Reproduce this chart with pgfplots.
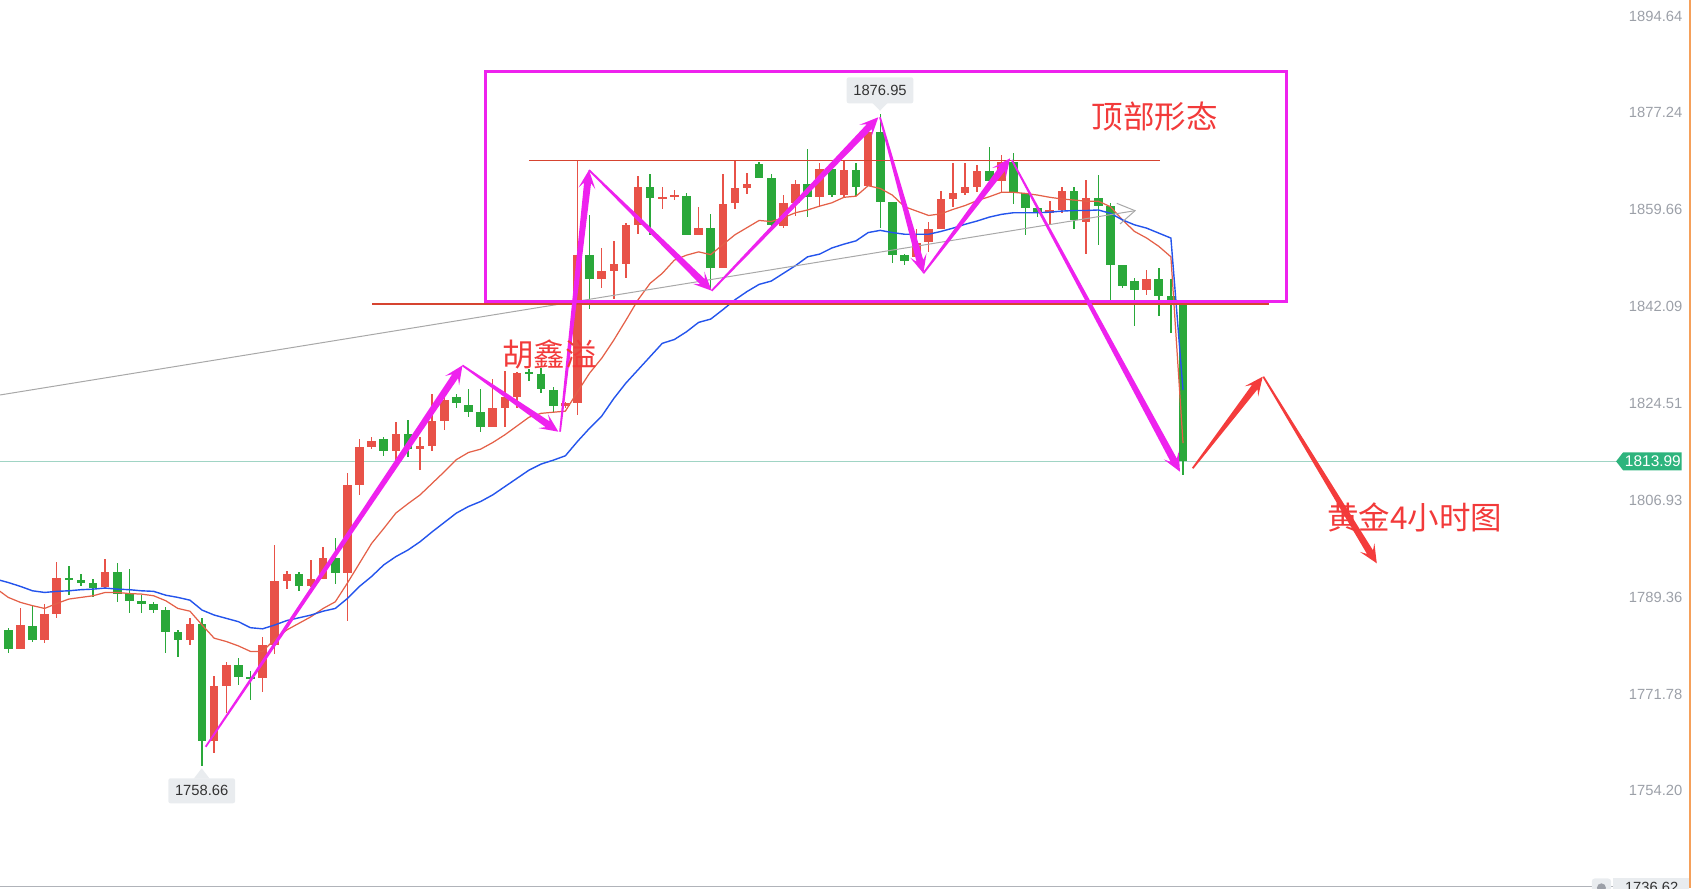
\documentclass[border=0pt]{standalone}
\usepackage{fontspec}
\setmainfont{Liberation Sans}
\newfontfamily\cjk{Noto Sans CJK SC}
\usepackage{pgfplots}
\pgfplotsset{compat=1.18}
\usepackage{pgfplotstable}
\usetikzlibrary{calc}

\definecolor{upred}{RGB}{232,82,72}
\definecolor{dngreen}{RGB}{42,168,58}
\definecolor{mafast}{RGB}{228,96,72}
\definecolor{maslow}{RGB}{36,84,236}
\definecolor{pinkline}{RGB}{238,34,238}
\definecolor{arrowred}{RGB}{244,60,60}
\definecolor{textred}{RGB}{242,58,58}
\definecolor{resline}{RGB}{214,68,48}
\definecolor{trendgrey}{RGB}{168,168,168}
\definecolor{lastline}{RGB}{160,212,196}
\definecolor{tagfill}{RGB}{46,180,125}
\definecolor{tickgrey}{RGB}{156,160,168}
\definecolor{boxgrey}{RGB}{233,236,239}
\definecolor{labeltext}{RGB}{51,51,51}
\definecolor{edgeorange}{RGB}{245,160,90}

% tapered arrow: colour, start (x,y), tip (x,y)
\newcommand\taper[5]{%
  \coordinate (ta) at (axis cs:#2,#3);
  \coordinate (tb) at (axis cs:#4,#5);
  \coordinate (tc) at ($(tb)!0.13cm!(ta)$);
  \coordinate (th) at ($(tb)!0.185cm!(ta)$);
  \fill[#1] ($(ta)!0.25pt!90:(tb)$) -- ($(tc)!1.0pt!90:(tb)$) -- ($(th)!2.4pt!90:(tb)$)
    -- (tb) -- ($(th)!2.4pt!-90:(tb)$) -- ($(tc)!1.0pt!-90:(tb)$)
    -- ($(ta)!0.25pt!-90:(tb)$) -- cycle;
}

% bar styles drawn from error bars: wick (thin) and body (thick)
\pgfplotsset{
  candle/.style 2 args={draw=none, mark=none, forget plot,
    error bars/.cd, y dir=both, y explicit, error mark=none,
    error bar style={draw=#1, line width=#2}},
}

% 4-hour bars: index, open, high, low, close
\pgfplotstableread{
i o h l c
1 1780.0 1787.3 1780.0 1784.3
3 1781.5 1788.1 1781.1 1786.3
4 1786.3 1795.7 1785.6 1792.8
8 1791.1 1796.3 1791.1 1793.9
15 1781.6 1785.6 1780.6 1784.5
17 1763.3 1775.1 1761.1 1773.3
18 1773.3 1777.5 1768.4 1777.1
21 1774.6 1782.2 1772.2 1780.7
22 1780.7 1798.8 1779.1 1792.2
23 1792.2 1794.1 1790.8 1793.6
25 1791.3 1796.1 1791.2 1792.6
26 1792.6 1798.5 1792.6 1796.5
28 1793.8 1811.9 1785.1 1809.7
29 1809.7 1818.0 1807.8 1816.6
30 1816.6 1818.4 1816.2 1817.7
32 1815.8 1821.1 1814.2 1819.0
34 1816.3 1818.5 1812.4 1816.8
35 1816.8 1826.2 1815.9 1821.3
36 1821.3 1825.8 1819.6 1825.2
40 1820.2 1828.9 1820.2 1823.6
41 1823.6 1830.4 1820.3 1825.6
42 1825.7 1830.2 1823.6 1830.1
46 1824.1 1824.7 1823.6 1824.5
47 1824.5 1868.5 1822.4 1851.4
49 1847.0 1852.8 1845.5 1848.5
50 1848.5 1854.0 1843.4 1849.8
51 1849.8 1857.2 1847.2 1856.9
52 1856.9 1865.8 1855.2 1863.8
54 1861.7 1863.8 1859.8 1862.0
55 1862.0 1863.2 1861.4 1862.3
57 1855.1 1860.2 1855.1 1856.3
59 1849.1 1866.1 1849.1 1860.7
60 1860.8 1868.7 1859.8 1863.6
61 1863.6 1866.4 1862.5 1864.4
64 1856.7 1862.4 1856.3 1860.8
65 1860.8 1865.0 1858.6 1864.3
67 1862.0 1868.1 1860.2 1867.0
69 1862.3 1868.7 1861.7 1866.9
71 1864.0 1874.0 1863.9 1873.8
75 1851.1 1856.2 1851.0 1853.6
76 1853.7 1857.5 1852.0 1856.2
77 1856.2 1863.1 1856.1 1861.6
78 1861.6 1868.2 1860.2 1862.7
79 1862.7 1868.2 1862.3 1863.8
80 1863.8 1867.7 1862.9 1866.6
82 1864.9 1869.6 1862.9 1868.3
86 1859.0 1861.2 1857.1 1859.6
87 1859.6 1863.8 1859.0 1863.1
89 1857.5 1865.0 1851.6 1861.7
94 1845.0 1848.7 1844.2 1847.0
}\upbars

\pgfplotstableread{
i o h l c
0 1783.3 1783.7 1779.2 1780.0
2 1784.1 1787.7 1781.3 1781.5
5 1792.8 1795.0 1789.7 1792.5
6 1792.5 1793.6 1791.4 1791.9
7 1791.9 1792.6 1789.3 1791.1
9 1793.9 1795.5 1788.4 1790.0
10 1790.0 1794.5 1786.4 1788.7
11 1788.7 1789.7 1786.4 1788.2
12 1788.2 1788.5 1786.5 1787.1
13 1787.1 1787.6 1779.3 1783.1
14 1783.1 1783.4 1778.4 1781.6
16 1784.5 1785.6 1758.66 1763.3
19 1777.1 1778.4 1773.5 1774.9
20 1774.9 1776.0 1770.7 1774.6
24 1793.6 1793.9 1790.5 1791.3
27 1796.5 1800.1 1791.7 1793.8
31 1818.0 1818.4 1815.0 1815.8
33 1819.0 1821.5 1814.7 1816.2
37 1825.6 1826.3 1823.6 1824.5
38 1824.3 1827.2 1822.0 1823.0
39 1822.9 1827.1 1819.3 1820.2
43 1830.1 1830.8 1828.6 1830.0
44 1829.8 1830.9 1826.3 1827.1
45 1826.9 1827.4 1823.0 1824.1
48 1851.4 1858.7 1841.6 1847.0
53 1863.8 1866.1 1855.1 1861.7
56 1862.1 1862.6 1855.1 1855.1
58 1856.4 1858.9 1845.1 1849.1
62 1868.0 1868.3 1865.5 1865.5
63 1865.4 1866.1 1856.5 1856.9
66 1864.3 1870.7 1858.4 1862.0
68 1867.0 1868.1 1862.0 1862.3
70 1866.9 1868.1 1862.1 1863.8
72 1873.8 1876.95 1856.4 1861.1
73 1861.1 1861.1 1849.9 1851.4
74 1851.4 1851.7 1849.6 1850.4
81 1866.6 1871.1 1864.7 1864.9
83 1868.3 1870.0 1860.6 1862.8
84 1862.6 1862.6 1855.1 1860.0
85 1859.9 1859.9 1858.4 1859.0
88 1863.1 1863.8 1856.2 1857.7
90 1861.7 1866.0 1853.3 1860.4
91 1860.3 1860.9 1843.3 1849.6
92 1849.6 1849.6 1845.4 1845.8
93 1846.7 1847.3 1838.6 1845.0
95 1847.0 1849.1 1840.3 1844.0
96 1844.0 1847.0 1837.3 1842.7
97 1842.4 1842.5 1811.5 1813.99
}\downbars

% moving averages: fast (red) and slow (blue)
\pgfplotstableread{
i fast slow
-1 1790.9 1792.6
0 1789.3 1792.0
1 1788.4 1791.3
2 1787.8 1790.5
3 1787.3 1790.2
4 1788.2 1790.4
5 1789.0 1790.5
6 1789.3 1790.7
7 1789.6 1790.8
8 1790.2 1791.0
9 1790.2 1790.8
10 1790.0 1790.7
11 1789.9 1790.5
12 1789.6 1790.4
13 1788.7 1789.7
14 1787.3 1789.3
15 1786.8 1788.8
16 1784.3 1787.0
17 1781.9 1786.1
18 1781.3 1785.5
19 1780.5 1784.9
20 1779.5 1783.8
21 1779.5 1783.6
22 1781.7 1784.3
23 1783.4 1785.1
24 1784.6 1785.6
25 1785.8 1786.1
26 1787.3 1786.8
27 1788.5 1787.3
28 1791.9 1789.1
29 1795.5 1791.3
30 1799.1 1793.1
31 1801.8 1795.2
32 1804.6 1796.7
33 1806.3 1797.9
34 1807.9 1799.4
35 1810.0 1801.2
36 1812.1 1802.9
37 1814.3 1804.6
38 1815.6 1805.8
39 1816.2 1806.7
40 1817.4 1807.9
41 1818.8 1809.4
42 1820.4 1810.9
43 1822.0 1812.4
44 1822.7 1813.5
45 1822.9 1814.2
46 1823.1 1815.0
47 1826.6 1817.6
48 1830.0 1820.0
49 1832.7 1822.2
50 1836.0 1825.4
51 1839.6 1828.2
52 1843.3 1830.6
53 1846.3 1833.0
54 1848.1 1835.4
55 1850.5 1836.1
56 1851.4 1837.5
57 1852.0 1839.2
58 1851.5 1839.8
59 1853.3 1841.5
60 1855.1 1843.3
61 1856.4 1844.8
62 1857.7 1846.1
63 1857.5 1846.7
64 1858.2 1848.1
65 1859.1 1849.5
66 1859.6 1851.1
67 1860.3 1851.6
68 1860.9 1852.7
69 1861.9 1853.4
70 1862.1 1854.0
71 1864.0 1855.5
72 1863.5 1855.9
73 1862.3 1855.5
74 1860.2 1855.2
75 1859.4 1855.2
76 1858.6 1855.2
77 1858.9 1855.7
78 1859.7 1856.3
79 1860.4 1857.0
80 1861.3 1857.6
81 1862.0 1858.3
82 1862.8 1858.8
83 1862.8 1859.1
84 1862.6 1859.1
85 1862.3 1859.1
86 1861.9 1859.2
87 1861.6 1859.4
88 1861.4 1859.5
89 1861.2 1859.5
90 1861.2 1859.6
91 1860.2 1859.0
92 1857.8 1857.8
93 1855.7 1856.9
94 1854.5 1856.3
95 1853.0 1855.4
96 1851.1 1854.5
97 1817.3 1826.9
}\mavg

\begin{document}
\begin{tikzpicture}
\begin{axis}[
  at={(0,0)}, anchor=south west,
  scale only axis, width=16.92cm, height=8.88cm,
  xmin=-0.685, xmax=139.03, ymin=1736.57, ymax=1897.70,
  axis line style={draw=none}, tick style={draw=none}, major tick length=0pt,
  xtick=\empty,
  ytick={1754.20,1771.78,1789.36,1806.93,1824.51,1842.09,1859.66,1877.24,1894.64},
  yticklabels={1754.20,1771.78,1789.36,1806.93,1824.51,1842.09,1859.66,1877.24,1894.64},
  yticklabel pos=right,
  yticklabel style={anchor=east, xshift=-0.09cm, inner sep=0pt,
    font=\fontsize{4.2pt}{5pt}\selectfont, text=tickgrey},
]
% last price line
\draw[lastline, line width=0.01cm] (axis cs:-0.685,1813.99) -- (axis cs:132.8,1813.99);

% wicks
\addplot[candle={upred}{0.4pt}]
  table[x=i, y expr={(\thisrow{h}+\thisrow{l})/2}, y error expr={(\thisrow{h}-\thisrow{l})/2}] {\upbars};
\addplot[candle={dngreen}{0.4pt}]
  table[x=i, y expr={(\thisrow{h}+\thisrow{l})/2}, y error expr={(\thisrow{h}-\thisrow{l})/2}] {\downbars};
% bodies
\addplot[candle={upred}{2.45pt}]
  table[x=i, y expr={(\thisrow{o}+\thisrow{c})/2}, y error expr={max(abs(\thisrow{c}-\thisrow{o})/2,0.15)}] {\upbars};
\addplot[candle={dngreen}{2.45pt}]
  table[x=i, y expr={(\thisrow{o}+\thisrow{c})/2}, y error expr={max(abs(\thisrow{c}-\thisrow{o})/2,0.15)}] {\downbars};

% moving averages
\addplot[mafast, line width=0.35pt, mark=none] table[x=i, y=fast] {\mavg};
\addplot[maslow, line width=0.4pt, mark=none] table[x=i, y=slow] {\mavg};

% trend line with open arrow head
\draw[trendgrey, line width=0.01cm] (axis cs:-0.685,1826.03) -- (axis cs:93.04,1859.47);
\draw[trendgrey, line width=0.01cm] (axis cs:91.53,1860.81) -- (axis cs:93.04,1859.47) -- (axis cs:91.80,1857.06);

% resistance / support lines
\draw[resline, line width=0.01cm] (axis cs:42.98,1868.5) -- (axis cs:95.1,1868.5);
\draw[resline, line width=0.02cm] (axis cs:30.06,1842.45) -- (axis cs:104.1,1842.45);

% top pattern box
\draw[pinkline, line width=0.03cm] (axis cs:39.41,1843.0) rectangle (axis cs:105.53,1884.7);

% swing arrows
\taper{pinkline}{16.30}{1762.2}{37.5}{1831.4}
\taper{pinkline}{37.5}{1831.4}{45.42}{1819.37}
\taper{pinkline}{45.56}{1819.37}{47.95}{1866.85}
\taper{pinkline}{47.95}{1866.85}{58.08}{1844.95}
\taper{pinkline}{58.08}{1844.95}{71.84}{1876.42}
\taper{pinkline}{71.98}{1876.42}{75.56}{1848.11}
\taper{pinkline}{75.56}{1848.11}{82.72}{1868.98}
\taper{pinkline}{82.86}{1868.67}{96.75}{1812.11}
\taper{arrowred}{97.8}{1812.73}{103.58}{1829.35}
\taper{arrowred}{103.63}{1829.35}{113.0}{1795.49}

% texts
\node[text=textred, font=\cjk\fontsize{8.96pt}{9pt}\selectfont] at (axis cs:94.67,1876.56) {顶部形态};
\node[text=textred, font=\cjk\fontsize{8.96pt}{9pt}\selectfont] at (axis cs:44.67,1833.43) {胡鑫溢};
\node[text=textred, font=\cjk\fontsize{8.96pt}{9pt}\selectfont] at (axis cs:116.12,1803.8) {黄金4小时图};

% high / low callouts
\fill[boxgrey] (axis cs:71.32,1879.1) -- (axis cs:72.64,1879.1) -- (axis cs:71.98,1877.6) -- cycle;
\node[fill=boxgrey, rounded corners=0.02cm, minimum width=0.666cm, minimum height=0.26cm,
  inner sep=0pt, text=labeltext, font=\fontsize{4.2pt}{5pt}\selectfont] at (axis cs:71.98,1881.31) {1876.95};
\fill[boxgrey] (axis cs:15.31,1756.4) -- (axis cs:16.63,1756.4) -- (axis cs:15.97,1758.3) -- cycle;
\node[fill=boxgrey, rounded corners=0.02cm, minimum width=0.666cm, minimum height=0.25cm,
  inner sep=0pt, text=labeltext, font=\fontsize{4.2pt}{5pt}\selectfont] at (axis cs:15.97,1754.21) {1758.66};

% current price tag
\fill[tagfill] (axis cs:132.76,1813.99) -- (axis cs:133.34,1815.62) -- (axis cs:138.18,1815.62)
  -- (axis cs:138.18,1812.36) -- (axis cs:133.34,1812.36) -- cycle;
\node[text=white, inner sep=0pt, font=\fontsize{4.4pt}{5pt}\selectfont] at (axis cs:135.8,1813.99) {1813.99};

% bottom strip
\draw[tickgrey!80, line width=0.01cm] (axis cs:-0.685,1736.81) -- (axis cs:132.5,1736.81);
\fill[boxgrey, rounded corners=0.03cm] (axis cs:130.75,1736.0) rectangle (axis cs:132.35,1738.3);
\fill[tickgrey] (axis cs:131.55,1736.6) circle[radius=0.045cm];
\fill[boxgrey] (axis cs:132.5,1735.0) rectangle (axis cs:138.8,1738.33);
\node[text=labeltext, inner sep=0pt, font=\fontsize{4.2pt}{5pt}\selectfont] at (axis cs:135.7,1736.62) {1736.62};

% right edge
\draw[edgeorange, line width=0.015cm] (axis cs:138.87,1736.57) -- (axis cs:138.87,1897.70);
\end{axis}
\pgfresetboundingbox
\path[use as bounding box] (0,0) rectangle (16.92cm,8.88cm);
\end{tikzpicture}
\end{document}
